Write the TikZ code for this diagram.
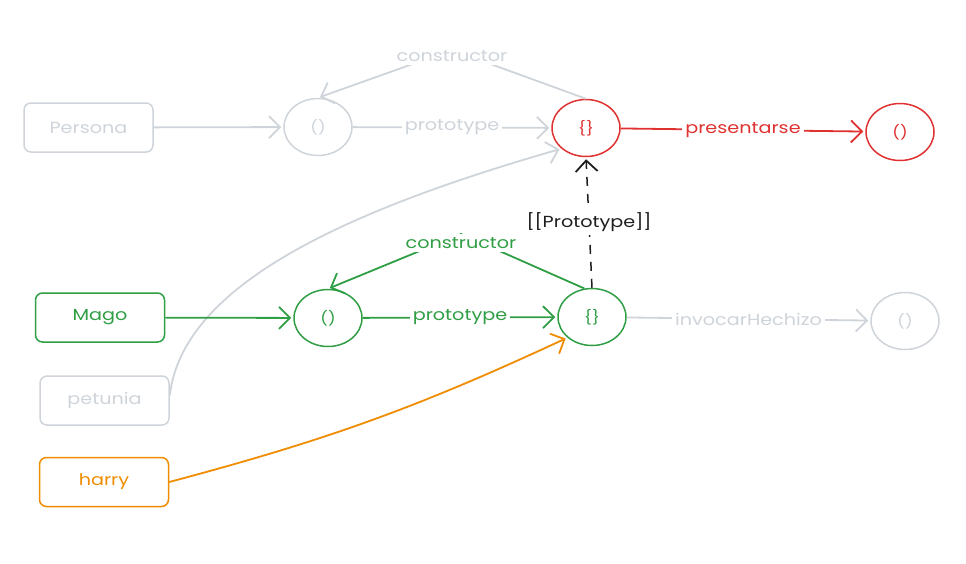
\documentclass[tikz,border=0pt]{standalone}
\usepackage{fontspec}
\setmainfont{Poppins}[FakeStretch=1.2]
\usetikzlibrary{arrows.meta,shapes.geometric}
\definecolor{cgray}{HTML}{CED4DA}
\definecolor{cred}{HTML}{E03131}
\definecolor{cgreen}{HTML}{2F9E44}
\definecolor{corange}{HTML}{F08C00}
\definecolor{cblack}{HTML}{1E1E1E}
\tikzset{
  box/.style={draw,rounded corners=7pt,minimum width=129pt,minimum height=49pt,line width=1.5pt,font=\fontsize{16}{19}\selectfont},
  obj/.style={draw,ellipse,minimum width=68pt,minimum height=57pt,line width=1.5pt,inner sep=0pt,font=\fontsize{14}{16}\selectfont},
  lbl/.style={fill=white,inner sep=3pt,font=\fontsize{16}{19}\selectfont},
  arr/.style={line width=1.8pt,-{Straight Barb[length=11pt,width=22pt,line width=1.8pt]},shorten >=2pt},
  plain/.style={line width=1.8pt}
}
\begin{document}
\begin{tikzpicture}[x=1pt,y=-1pt]
\useasboundingbox (0,0) rectangle (966,563);
% nodes
\node[box,cgray,text=cgray] (persona) at (88.5,127.5) {Persona};
\node[obj,cgray,text=cgray] (pfun) at (318,127) {()};
\node[obj,cred,text=cred] (robj) at (586,128) {\{\}};
\node[obj,cred,text=cred] (rfun) at (900,132) {()};
\node[box,cgreen,text=cgreen] (mago) at (100,317.5) {Mago};
\node[obj,cgreen,text=cgreen] (gfun) at (328,318) {()};
\node[obj,cgreen,text=cgreen] (gobj) at (592,317) {\{\}};
\node[obj,cgray,text=cgray] (ifun) at (905,321) {()};
\node[box,cgray,text=cgray] (petunia) at (104.5,400.5) {petunia};
\node[box,corange,text=corange] (harry) at (104,482) {harry};
\coordinate (c1) at (452,50);
\coordinate (c2) at (461,234);
% gray connectors
\draw[arr,cgray] (persona) -- (pfun);
\draw[arr,cgray] (pfun) -- node[lbl,text=cgray]{prototype} (robj);
\draw[arr,cgray] (robj.north) -- (c1) -- (pfun.north);
\node[lbl,text=cgray] (lc1) at (452,56) {constructor};
\draw[arr,cgray] ([yshift=5pt]petunia.east) .. controls (182,290) and (330,215) .. (robj.south west);
\draw[arr,cgray] (gobj) -- node[lbl,text=cgray]{invocarHechizo} (ifun);
% red
\draw[arr,cred] (robj) -- node[lbl,text=cred]{presentarse} (rfun);
% green
\draw[arr,cgreen] (mago) -- (gfun);
\draw[arr,cgreen] (gfun) -- node[lbl,text=cgreen]{prototype} (gobj);
\draw[arr,cgreen] (gobj.105) -- (c2) -- (gfun.north);
\node[lbl,text=cgreen] (lc2) at (461,243) {constructor};
% dashed prototype link
\draw[arr,cblack,line width=1.5pt,dash pattern=on 9pt off 8pt] (gobj.north) -- node[lbl,text=cblack]{[[Prototype]]} (robj.south);
% orange
\draw[arr,corange] (harry.east) to[bend right=5] (gobj.south west);
\end{tikzpicture}
\end{document}
